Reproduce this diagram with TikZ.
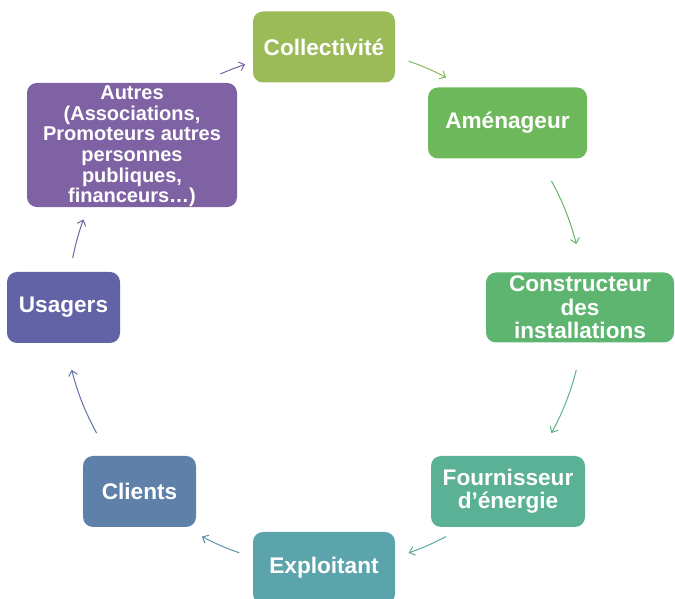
\documentclass[tikz,border=0pt]{standalone}
\usepackage{fontspec}
\setmainfont{Liberation Sans}
\usetikzlibrary{arrows.meta,calc}

% couleurs des etapes
\definecolor{cColl}{HTML}{9BBB59}
\definecolor{cAmen}{HTML}{6EB85C}
\definecolor{cCons}{HTML}{5DB570}
\definecolor{cFour}{HTML}{5BB195}
\definecolor{cExpl}{HTML}{5CA4AC}
\definecolor{cClie}{HTML}{5E80A9}
\definecolor{cUsag}{HTML}{6262A6}
\definecolor{cAutr}{HTML}{7F62A3}

\begin{document}
\begin{tikzpicture}[x=1pt,y=1pt,
    etape/.style={rounded corners=10pt,fill=#1,text=white,align=center,
        font=\bfseries\fontsize{22.6}{23.3}\selectfont,
        inner sep=0pt,minimum height=71pt},
    fleche/.style={draw=#1,line width=1pt,
        -{Straight Barb[length=5pt,width=9pt]}}]
\useasboundingbox (0,0) rectangle (675,599);
\coordinate (ctr) at (324,292);

    %Etapes
    \node[etape=cColl,minimum width=142pt] (coll) at (324,552) {Collectivité};
    \node[etape=cAmen,minimum width=159pt] (amen) at (507.5,476) {Aménageur};
    \node[etape=cCons,minimum width=188pt,minimum height=70pt] (cons) at (580,291.5)
        {Constructeur\\des\\installations};
    \node[etape=cFour,minimum width=154pt] (four) at (508,107.5) {Fournisseur\\d’énergie};
    \node[etape=cExpl,minimum width=142pt,minimum height=72pt] (expl) at (324,31) {Exploitant};
    \node[etape=cClie,minimum width=113pt] (clie) at (139.5,107.5) {Clients};
    \node[etape=cUsag,minimum width=113pt] (usag) at (63.5,291.5) {Usagers};
    \node[etape=cAutr,minimum width=210pt,minimum height=124pt,
        font=\bfseries\fontsize{20}{20.7}\selectfont] (autr) at (132,454)
        {\rule{0pt}{16.5pt}Autres\\(Associations,\\Promoteurs autres\\personnes\\publiques,\\financeurs…)};

    %Fleches du cycle
    \foreach \a/\b/\r/\c [count=\i] in {71/62/260/cColl!55!cAmen,29/14/260/cAmen!50!cCons,
        -14/-29/260/cCons!50!cFour,-62/-71/260/cFour!50!cExpl,-109/-118/260/cExpl!50!cClie,
        -151/-166/260/cClie!50!cUsag,169/160/256/cUsag!50!cAutr,114/108/255/cAutr!70!cUsag}{
        \coordinate (f\i) at ($(ctr)+(\a:\r)$);
        \draw[fleche=\c] (f\i) arc[start angle=\a,end angle=\b,radius=\r];
    }
\end{tikzpicture}
\end{document}
